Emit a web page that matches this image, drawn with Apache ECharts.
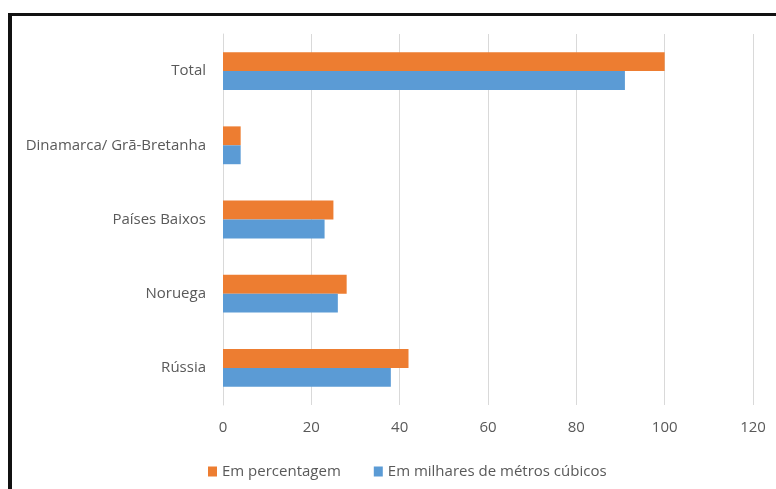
<!DOCTYPE html>
<html>
<head>
<meta charset="utf-8">
<script src="https://cdn.jsdelivr.net/npm/echarts@6/dist/echarts.min.js"></script>
<style>
  html, body { margin: 0; padding: 0; background: #fff; }
  #chart { width: 776px; height: 489px; }
</style>
</head>
<body>
<div id="chart"></div>
<script>
// Categories listed top to bottom
const categories = ['Total', 'Dinamarca/ Grã-Bretanha', 'Países Baixos', 'Noruega', 'Rússia'];
const seriesNames = ['Em percentagem', 'Em milhares de métros cúbicos'];
const percentValues = [100, 4, 25, 28, 42];
const volumeValues = [91, 4, 23, 26, 38];
const xTicks = [0, 20, 40, 60, 80, 100, 120];

const textColor = '#595959';
const font = '"Open Sans", sans-serif';

const chart = echarts.init(document.getElementById('chart'), null, { renderer: 'canvas' });
chart.setOption({
  animation: false,
  backgroundColor: '#fff',
  color: ['#ED7D31', '#5B9BD5'],
  grid: { left: 223, right: 23, top: 34, bottom: 84, containLabel: false },
  legend: {
    data: seriesNames,
    left: 203,
    top: 459,
    itemWidth: 9,
    itemHeight: 10,
    itemGap: 33,
    icon: 'rect',
    textStyle: { color: textColor, fontFamily: font, fontSize: 15 }
  },
  xAxis: {
    type: 'value',
    min: xTicks[0],
    max: xTicks[xTicks.length - 1],
    interval: xTicks[1] - xTicks[0],
    axisLine: { show: false },
    axisTick: { show: false },
    axisLabel: { color: textColor, fontFamily: font, fontSize: 15, margin: 15 },
    splitLine: { lineStyle: { color: '#d9d9d9', width: 1 } }
  },
  yAxis: {
    type: 'category',
    inverse: true,
    data: categories,
    axisLine: { show: true, lineStyle: { color: '#d9d9d9' } },
    axisTick: { show: false },
    axisLabel: { color: textColor, fontFamily: font, fontSize: 15, margin: 17 }
  },
  series: [
    {
      name: seriesNames[0],
      type: 'bar',
      data: percentValues,
      barGap: '0%',
      barCategoryGap: '49%'
    },
    {
      name: seriesNames[1],
      type: 'bar',
      data: volumeValues,
      barGap: '0%',
      barCategoryGap: '49%'
    }
  ],
  graphic: [
    { type: 'rect', shape: { x: 8, y: 13, width: 4, height: 476 }, style: { fill: '#111' } },
    { type: 'rect', shape: { x: 8, y: 13, width: 768, height: 3 }, style: { fill: '#111' } }
  ]
});
</script>
</body>
</html>
